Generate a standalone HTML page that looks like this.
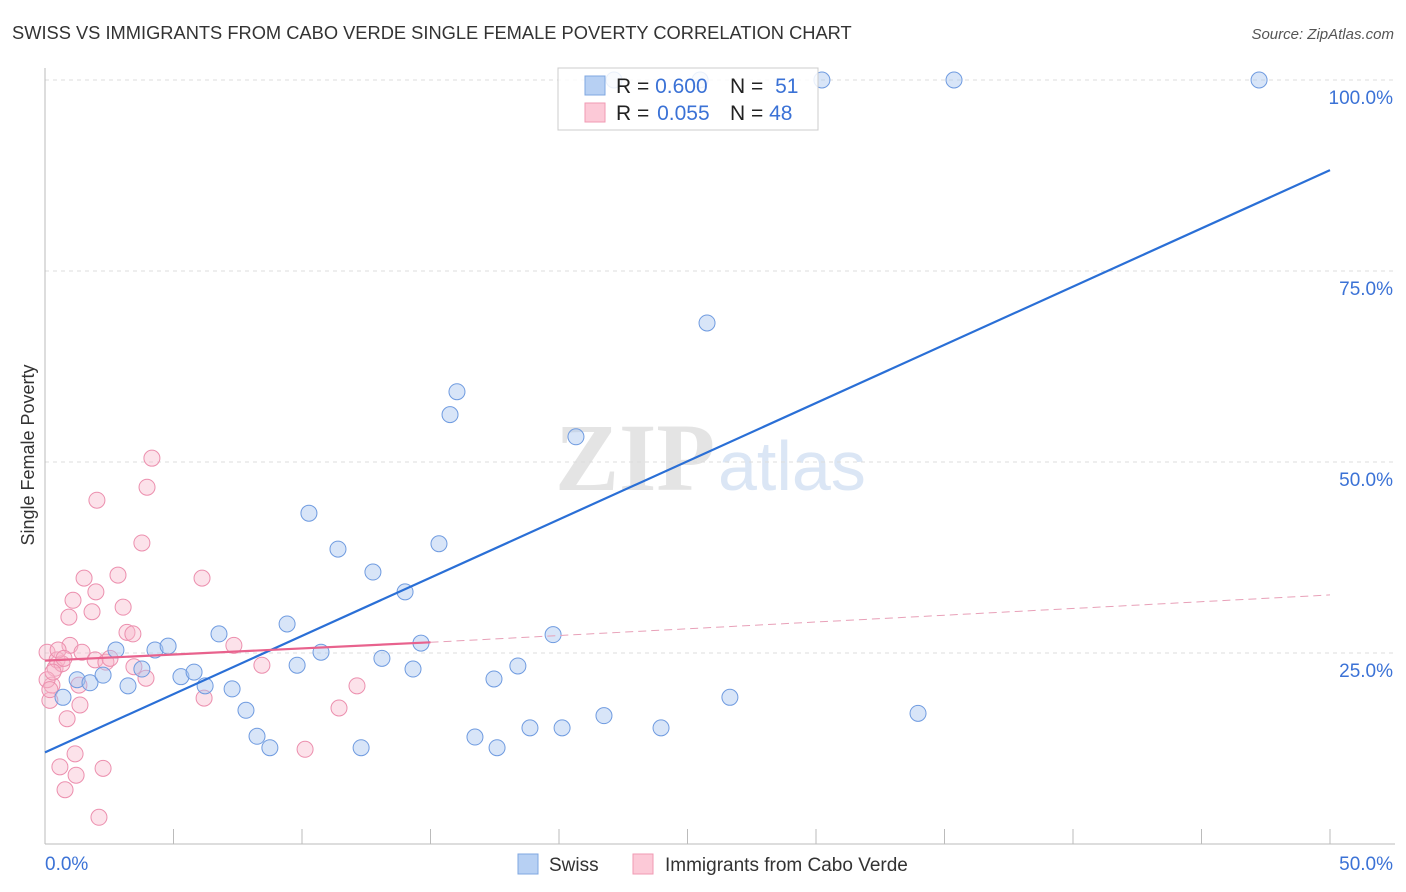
<!DOCTYPE html>
<html><head><meta charset="utf-8"><style>
body{margin:0;background:#fff;font-family:"Liberation Sans",sans-serif;}
svg{display:block}
</style></head><body>
<svg id="chart" width="1406" height="892">
<text x="12" y="39" font-size="18.3" fill="#333">SWISS VS IMMIGRANTS FROM CABO VERDE SINGLE FEMALE POVERTY CORRELATION CHART</text>
<text x="1394" y="39" font-size="15" fill="#555" font-style="italic" text-anchor="end">Source: ZipAtlas.com</text>
<text x="715" y="490" font-size="96" fill="#e4e4e4" font-family="Liberation Serif,serif" text-anchor="end" font-weight="bold">ZIP</text>
<text x="718" y="490" font-size="70" fill="#dbe6f5">atlas</text>
<text transform="translate(34,455) rotate(-90)" font-size="18" fill="#333" text-anchor="middle">Single Female Poverty</text>
<g id="grid"></g><g id="marks"></g>
<g>
<rect x="558" y="68" width="260" height="62" fill="#fff" fill-opacity="0.85" stroke="#ccc"/>
<rect x="585" y="76" width="20" height="19" fill="#b7d0f3" stroke="#7fa7e0"/>
<rect x="585" y="103" width="20" height="19" fill="#fcc9d7" stroke="#f09ab3"/>
<text x="616" y="93" font-size="21" fill="#222">R = <tspan fill="#3b72d6">0.600</tspan></text>
<text x="730" y="93" font-size="21" fill="#222">N = <tspan fill="#3b72d6" dx="6">51</tspan></text>
<text x="616" y="120" font-size="21" fill="#222">R = <tspan fill="#3b72d6" dx="2">0.055</tspan></text>
<text x="730" y="120" font-size="21" fill="#222">N = <tspan fill="#3b72d6">48</tspan></text>
</g>
<g>
<rect x="518" y="854" width="20" height="20" fill="#b7d0f3" stroke="#7fa7e0"/>
<text x="549" y="871" font-size="19" fill="#333">Swiss</text>
<rect x="633" y="854" width="20" height="20" fill="#fcc9d7" stroke="#f09ab3"/>
<text x="665" y="871" font-size="19" fill="#333">Immigrants from Cabo Verde</text>
</g>
</svg>
<script>
const swissX=[0.70,1.25,1.75,2.26,2.76,3.23,3.77,4.28,4.79,5.29,5.80,6.23,6.77,7.28,7.82,8.25,8.75,9.42,9.81,10.27,10.74,11.40,12.30,12.76,13.11,14.01,14.32,14.63,15.33,15.76,16.03,16.73,17.47,17.59,18.40,18.87,19.77,20.12,20.66,21.75,23.97,25.76,26.65,30.23,33.97,35.37,47.24,22.14,25.49];
const swissY=[19.2,21.5,21.1,22.1,25.4,20.7,22.9,25.4,25.9,21.9,22.5,20.7,27.5,20.3,17.5,14.1,12.6,28.8,23.4,43.3,25.1,38.6,12.6,35.6,24.3,33.0,22.9,26.3,39.3,56.2,59.2,14.0,21.6,12.6,23.3,15.2,27.4,15.2,53.3,16.8,15.2,68.2,19.2,100,17.1,100,100,100,100];
const caboX=[0.08,0.19,0.27,0.39,0.47,0.58,0.66,0.78,0.86,0.93,0.97,1.09,1.17,1.21,1.32,1.36,1.44,1.52,1.83,1.95,1.98,2.02,2.10,2.26,2.37,2.53,2.84,3.04,3.19,3.42,3.46,3.77,3.93,3.97,4.16,6.11,6.19,7.35,8.44,10.12,11.44,12.14,0.08,0.19,0.31,0.51,0.74];
const caboY=[25.1,18.8,20.8,23.0,24.1,10.1,23.6,7.1,16.4,29.7,26.0,31.9,11.8,9.0,20.8,18.2,25.1,34.8,30.4,24.1,33.0,45.0,3.5,9.9,23.8,24.3,35.2,31.0,27.7,27.5,23.2,39.4,21.7,46.7,50.5,34.8,19.1,26.0,23.4,12.4,17.8,20.7,21.5,20.2,22.5,25.4,24.3];
const swissTrend=[0,12.0,50,88.2];
const caboTrend=[0,24.0,15,26.4,50,32.6];
const yTicks=[25,50,75,100];
const yTickLabels=["25.0%","50.0%","75.0%","100.0%"];
const xTickVals=[0,5,10,15,20,25,30,35,40,45,50];

const sx=v=>45+v/50*1285, sy=v=>844-v/100*764;
const NS="http://www.w3.org/2000/svg";
function mk(t,a,p){const e=document.createElementNS(NS,t);for(const k in a)e.setAttribute(k,a[k]);p.appendChild(e);return e;}
const grid=document.getElementById('grid'), marks=document.getElementById('marks');
yTicks.forEach((t,i)=>{
  const l=mk('line',{x1:45,x2:1395,y1:sy(t),y2:sy(t),stroke:'#ddd','stroke-dasharray':'4,4'},grid);
  
  
  const tx=mk('text',{x:1393,y:sy(t)+24,'font-size':19,fill:'#3b72d6','text-anchor':'end'},grid);
  tx.textContent=yTickLabels[i];
  
  
});
const ax=mk('line',{x1:45,x2:1395,y1:844,y2:844,stroke:'#bbb'},grid);


const ay=mk('line',{x1:45,x2:45,y1:68,y2:844,stroke:'#bbb'},grid);


xTickVals.forEach(v=>{
  const t=mk('line',{x1:sx(v),x2:sx(v),y1:829,y2:844,stroke:'#bbb'},grid);
  
  
});
[[0,'0.0%','start',45],[50,'50.0%','end',1393]].forEach(d=>{
  const t=mk('text',{x:d[3],y:870,'font-size':19,fill:'#3b72d6','text-anchor':d[2]},grid);
  t.textContent=d[1];
  
  
});
caboX.forEach((x,i)=>{
  const c=mk('circle',{cx:sx(x),cy:sy(caboY[i]),r:8,fill:'#f7b6ca','fill-opacity':0.4,stroke:'#ec8fae','stroke-width':1},marks);
  
  
});
swissX.forEach((x,i)=>{
  const c=mk('circle',{cx:sx(x),cy:sy(swissY[i]),r:8,fill:'#a9c6f0','fill-opacity':0.45,stroke:'#6f9be0','stroke-width':1},marks);
  
  
});
const bl=mk('line',{x1:sx(swissTrend[0]),y1:sy(swissTrend[1]),x2:sx(swissTrend[2]),y2:sy(swissTrend[3]),stroke:'#2a6fd6','stroke-width':2.2},marks);


const pl=mk('line',{x1:sx(caboTrend[0]),y1:sy(caboTrend[1]),x2:sx(caboTrend[2]),y2:sy(caboTrend[3]),stroke:'#e8628d','stroke-width':2.2},marks);


const pd=mk('line',{x1:sx(caboTrend[2]),y1:sy(caboTrend[3]),x2:sx(caboTrend[4]),y2:sy(caboTrend[5]),stroke:'#e8a0b8','stroke-width':1,'stroke-dasharray':'8,5'},marks);


</script>
</body></html>
